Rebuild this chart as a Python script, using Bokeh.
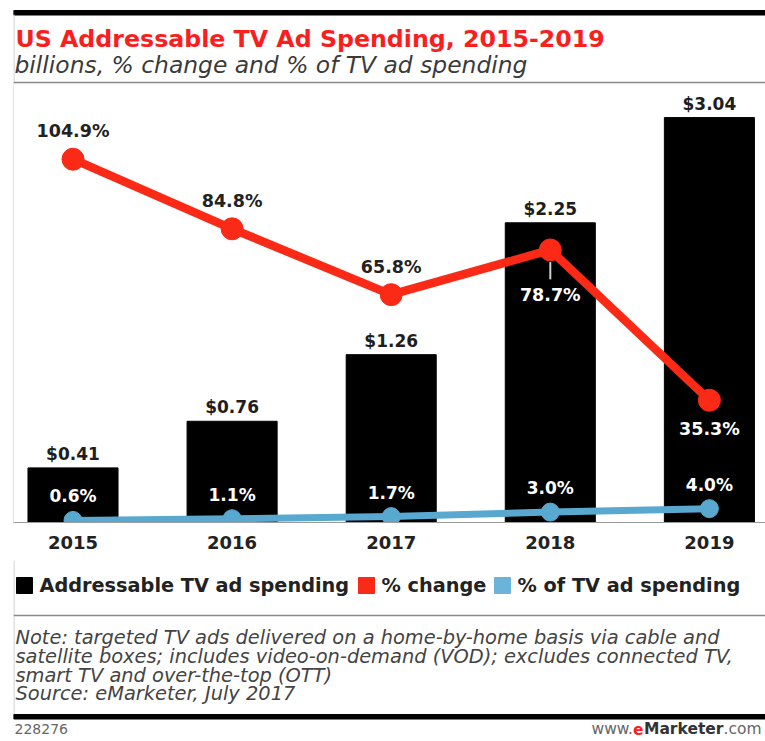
from bokeh.plotting import figure
from bokeh.models import Range1d, FixedTicker, ColumnDataSource, LabelSet, Span
from bokeh.layouts import column
from bokeh.embed import file_html
from bokeh.resources import INLINE
from bokeh.core.properties import value

# ---------------- data ----------------
years = ["2015", "2016", "2017", "2018", "2019"]
spending = [0.41, 0.76, 1.26, 2.25, 3.04]          # billions
pct_change = [104.9, 84.8, 65.8, 78.7, 35.3]       # % change
pct_of_tv = [0.6, 1.1, 1.7, 3.0, 4.0]              # % of TV ad spending

title = "US Addressable TV Ad Spending, 2015-2019"
subtitle = "billions, % change and % of TV ad spending"
legend_labels = ["Addressable TV ad spending", "% change", "% of TV ad spending"]
notes = [
    "Note: targeted TV ads delivered on a home-by-home basis via cable and",
    "satellite boxes; includes video-on-demand (VOD); excludes connected TV,",
    "smart TV and over-the-top (OTT)",
    "Source: eMarketer, July 2017",
]
chart_id = "228276"

# ---------------- style ----------------
FONT = "DejaVu Sans"
RED = "#fa2a17"
TITLE_RED = "#fb1e1e"
BLUE = "#58a8d0"
DARK = "#1e1e1e"
W = 765
HEAD_H = 84
MAIN_H = 476
FOOT_H = 181
LEFT = 13


def bare(p):
    p.grid.visible = False
    p.outline_line_color = None
    p.background_fill_color = "white"
    p.border_fill_color = "white"
    return p


def panel(height):
    # header / footer panels share the main chart's frame edges (column aligns frames);
    # x and y are in pixels of the whole chart, y growing downwards
    return bare(figure(width=W, height=height, x_range=Range1d(LEFT, W), y_range=Range1d(height, 0),
                       output_backend="svg", toolbar_location=None,
                       x_axis_location=None, y_axis_location=None,
                       min_border_left=LEFT, min_border_right=0, min_border_top=0, min_border_bottom=0))


# ---------------- header ----------------
h = panel(HEAD_H)
h.quad(left=LEFT, right=W, top=10, bottom=14.5, color="black")
h.segment(x0=LEFT + 0.5, y0=14, x1=LEFT + 0.5, y1=HEAD_H, line_color="#c4c4c4", line_width=1)
h.segment(x0=LEFT, y0=82, x1=W, y1=82, line_color="#8a8a8a", line_width=1.5)
h.text(x=[15], y=[38], text=[title], text_font=value(FONT), text_font_style="bold",
       text_font_size="23.7px", text_color=TITLE_RED, text_baseline="alphabetic")
h.text(x=[14], y=[64], text=[subtitle], text_font=value(FONT), text_font_style="italic",
       text_font_size="23.4px", text_color="#3a3a3a", text_baseline="alphabetic")

# ---------------- main chart ----------------
idx = list(range(len(years)))
px_per_slot = 159.1
x_start = -(72.5 - LEFT) / px_per_slot
x_end = x_start + (W - LEFT) / px_per_slot
frame_h = MAIN_H - 38
spend_end = frame_h / 133.2
pct_end = frame_h / 3.463

p = bare(figure(width=W, height=MAIN_H, x_range=Range1d(x_start, x_end), y_range=Range1d(0, spend_end),
                output_backend="svg", toolbar_location=None, y_axis_location=None,
                min_border_left=LEFT, min_border_right=0, min_border_top=0, min_border_bottom=38))
p.extra_y_ranges = {"pct": Range1d(0, pct_end)}

src = ColumnDataSource(dict(
    x=idx,
    spend=spending,
    spend_lbl=[f"${v:.2f}" for v in spending],
    chg=pct_change,
    chg_lbl=[f"{v:.1f}%" for v in pct_change],
    share=pct_of_tv,
    share_lbl=[f"{v:.1f}%" for v in pct_of_tv],
    chg_dy=[28, 28, 28, -45, -29],
    chg_col=["#222222", "#222222", "#222222", "white", "white"],
))

p.add_layout(Span(location=x_start, dimension="height", line_color="#c4c4c4", line_width=1))

p.vbar(x="x", top="spend", width=0.566, color="black", source=src)

p.line(x="x", y="share", y_range_name="pct", line_width=7, line_color=BLUE, line_join="round", source=src)
p.scatter(x="x", y="share", y_range_name="pct", size=18, color=BLUE, source=src)

p.line(x="x", y="chg", y_range_name="pct", line_width=8.5, line_color=RED, line_join="round", source=src)
p.scatter(x="x", y="chg", y_range_name="pct", size=22, color=RED, source=src)

# leader tick for the 2018 % change label
p.segment(x0=[idx[3]], y0=[pct_change[3] - 3.5], x1=[idx[3]], y1=[pct_change[3] - 8.5],
          y_range_name="pct", line_color="#d0d0d0", line_width=2)

p.add_layout(LabelSet(x="x", y="spend", text="spend_lbl", source=src, y_offset=8,
                      text_font=value(FONT), text_font_style="bold", text_font_size="17px",
                      text_color=DARK, text_align="center", text_baseline="alphabetic"))
p.add_layout(LabelSet(x="x", y="chg", text="chg_lbl", source=src, y_range_name="pct", y_offset="chg_dy",
                      text_font=value(FONT), text_font_style="bold", text_font_size="17.5px",
                      text_color="chg_col", text_align="center", text_baseline="middle"))
p.add_layout(LabelSet(x="x", y="share", text="share_lbl", source=src, y_range_name="pct", y_offset=24,
                      text_font=value(FONT), text_font_style="bold", text_font_size="17px",
                      text_color="white", text_align="center", text_baseline="middle"))

ax = p.xaxis[0]
ax.ticker = FixedTicker(ticks=idx)
ax.major_label_overrides = {i: y for i, y in zip(idx, years)}
ax.axis_line_color = "#9a9a9a"
ax.axis_line_width = 1
ax.major_tick_line_color = None
ax.minor_tick_line_color = None
ax.major_tick_out = 0
ax.major_tick_in = 0
ax.major_label_standoff = 13
ax.major_label_text_font = FONT
ax.major_label_text_font_style = "bold"
ax.major_label_text_font_size = "18px"
ax.major_label_text_color = "#222222"

# ---------------- footer ----------------
f = panel(FOOT_H)
f.segment(x0=LEFT + 0.5, y0=0, x1=LEFT + 0.5, y1=155, line_color="#c4c4c4", line_width=1)

leg_sq_x = [24, 366, 502]
leg_tx_x = [39, 381, 517]
f.scatter(x=leg_sq_x, y=[25, 25, 25], marker="square", size=16, color=["black", RED, "#6cb3da"])
f.text(x=leg_tx_x, y=[25, 25, 25], text=legend_labels, text_font=value(FONT), text_font_style="bold",
       text_font_size="19.3px", text_color="#222222", text_baseline="middle")

f.segment(x0=LEFT, y0=55, x1=W, y1=55, line_color="#8a8a8a", line_width=1.5)
f.text(x=[15] * len(notes), y=[77, 96, 114.5, 133], text=notes, text_font=value(FONT),
       text_font_style="italic", text_font_size="19.4px", text_color="#444444", text_baseline="alphabetic")
f.quad(left=LEFT, right=W, top=154, bottom=158.5, color="black")

FOOT_Y = 168
f.text(x=[14], y=[FOOT_Y], text=[chart_id], text_font=value(FONT), text_font_size="14px",
       text_color="#666666", text_baseline="middle")
# www.eMarketer.com, right aligned, built right-to-left
fs = 15.5
right = W - 4
w_com = 2.454 * fs
w_mark = 5.155 * fs
w_e = 0.678 * fs
f.text(x=[right], y=[FOOT_Y], text=[".com"], text_font=value(FONT), text_font_size=f"{fs}px",
       text_color="#666666", text_baseline="middle", text_align="right")
f.text(x=[right - w_com], y=[FOOT_Y], text=["Marketer"], text_font=value(FONT), text_font_style="bold",
       text_font_size=f"{fs}px", text_color="#333333", text_baseline="middle", text_align="right")
f.text(x=[right - w_com - w_mark], y=[FOOT_Y], text=["e"], text_font=value(FONT), text_font_style="bold",
       text_font_size=f"{fs}px", text_color=TITLE_RED, text_baseline="middle", text_align="right")
f.text(x=[right - w_com - w_mark - w_e], y=[FOOT_Y], text=["www."], text_font=value(FONT),
       text_font_size=f"{fs}px", text_color="#666666", text_baseline="middle", text_align="right")

layout = column(h, p, f, spacing=0)
open("out.html", "w").write(file_html(layout, INLINE))
